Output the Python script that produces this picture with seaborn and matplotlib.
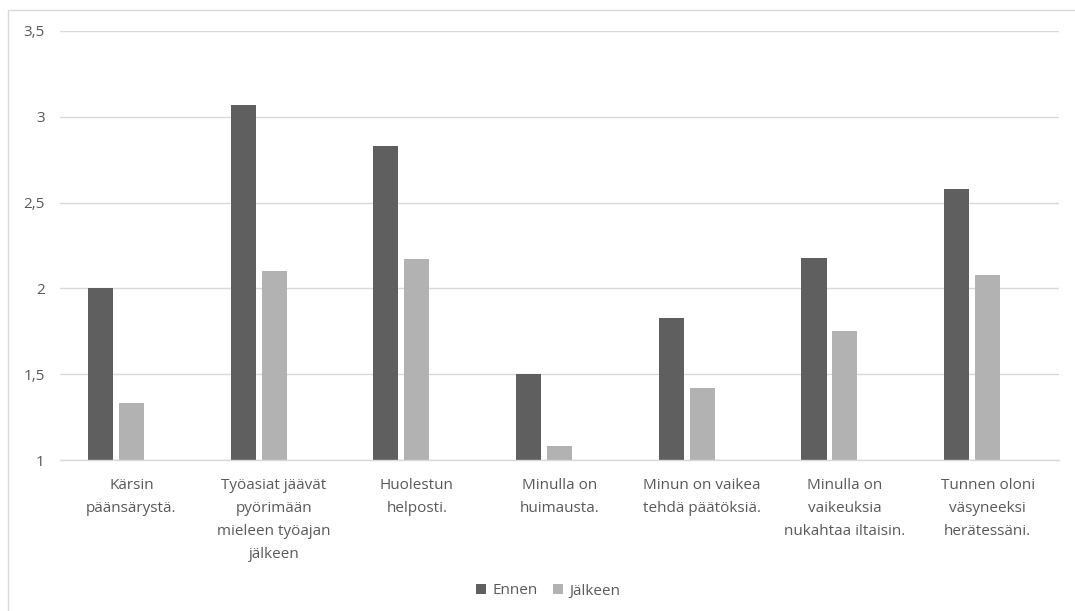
import matplotlib
matplotlib.use("Agg")
import matplotlib.pyplot as plt
import seaborn as sns
import pandas as pd
from matplotlib.patches import Rectangle
from matplotlib.ticker import FuncFormatter

# Survey statements (category axis)
categories = [
    "Kärsin\npäänsärystä.",
    "Työasiat jäävät\npyörimään\nmieleen työajan\njälkeen",
    "Huolestun\nhelposti.",
    "Minulla on\nhuimausta.",
    "Minun on vaikea\ntehdä päätöksiä.",
    "Minulla on\nvaikeuksia\nnukahtaa iltaisin.",
    "Tunnen oloni\nväsyneeksi\nherätessäni.",
]
# Mean scores before and after
ennen = [2.0, 3.07, 2.83, 1.5, 1.83, 2.18, 2.58]
jalkeen = [1.33, 2.1, 2.17, 1.08, 1.42, 1.75, 2.08]
series_names = ["Ennen", "Jälkeen"]
series_colors = ["#5f5f5f", "#b2b2b2"]
y_ticks = [1, 1.5, 2, 2.5, 3, 3.5]

df = pd.DataFrame({
    "kategoria": categories * 2,
    "arvo": ennen + jalkeen,
    "sarja": [series_names[0]] * len(categories) + [series_names[1]] * len(categories),
})

sns.set_style("white")
plt.rcParams["font.family"] = ["Open Sans", "DejaVu Sans"]
text_color = "#595959"
fs = 11

fig = plt.figure(figsize=(10.75, 6.11), dpi=100)
ax = fig.add_axes([60 / 1075, 1 - 460 / 611, 999 / 1075, 429 / 611])

# A third, empty hue slot keeps the Excel-style cluster spacing
hue_order = series_names + ["_tyhjä"]
palette = dict(zip(hue_order, series_colors + ["white"]))
sns.barplot(
    data=df, x="kategoria", y="arvo", hue="sarja", hue_order=hue_order,
    order=categories, palette=palette, width=0.65, gap=0.19,
    edgecolor="none", saturation=1, errorbar=None, ax=ax,
)

ax.set_ylim(1, 3.5)
ax.set_xlim(-0.5, len(categories) - 0.5)
ax.set_yticks(y_ticks)
ax.yaxis.set_major_formatter(FuncFormatter(lambda v, _: f"{v:g}".replace(".", ",")))
ax.grid(axis="y", color="#d9d9d9", linewidth=1)
ax.set_axisbelow(True)
for s in ["left", "right", "top"]:
    ax.spines[s].set_visible(False)
ax.spines["bottom"].set_color("#d9d9d9")
ax.spines["bottom"].set_linewidth(1)
ax.set_xlabel("")
ax.set_ylabel("")
ax.tick_params(axis="y", length=0, pad=11, labelsize=fs, labelcolor=text_color)
ax.tick_params(axis="x", length=0, pad=13, labelsize=fs, labelcolor=text_color)
for lbl in ax.get_xticklabels():
    lbl.set_linespacing(1.72)

# Legend with only the two real series
handles, labels = ax.get_legend_handles_labels()
if ax.get_legend() is not None:
    ax.get_legend().remove()
keep = [(h, l) for h, l in zip(handles, labels) if l in series_names]
fig.legend(
    [h for h, _ in keep], [l for _, l in keep],
    loc="center", bbox_to_anchor=(548 / 1075, 1 - 591 / 611), ncol=2,
    frameon=False, fontsize=fs, labelcolor=text_color,
    handlelength=0.65, handleheight=0.65, handletextpad=0.4, columnspacing=1.0,
)

# Chart area outline
fig.patches.append(Rectangle(
    (8 / 1075, -0.1), 1.2, 1 - 10 / 611 + 0.1, transform=fig.transFigure,
    fill=False, edgecolor="#d9d9d9", linewidth=1,
))

fig.savefig("out.png", dpi=100)
